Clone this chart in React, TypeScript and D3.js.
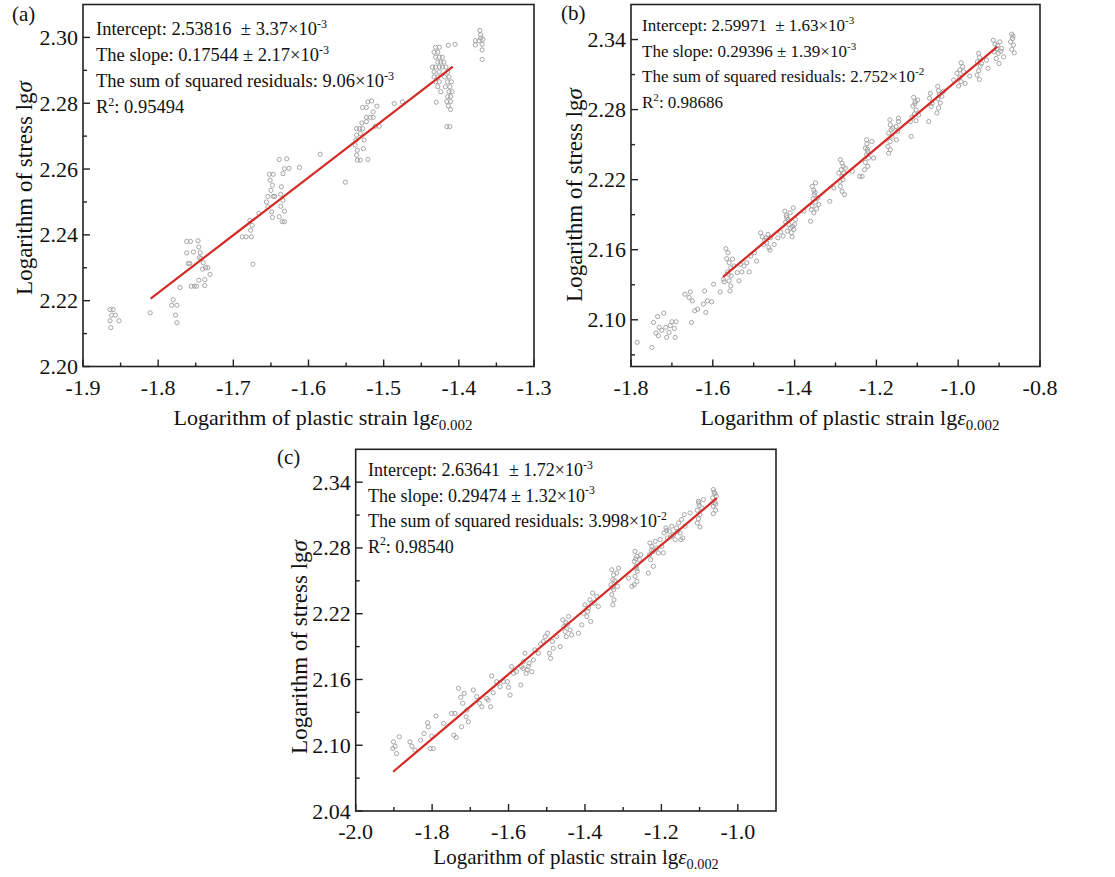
import React from "react";
import * as d3 from "d3";

const FONT = "'Liberation Serif', 'Times New Roman', Times, serif";

// ---------- Panel (a) ----------
const pointsA: [number, number][] = [
  [-1.864, 2.2173], [-1.860, 2.2173], [-1.862, 2.2156], [-1.857, 2.2156], [-1.864, 2.2139], [-1.852, 2.2139], [-1.863, 2.2118],
  [-1.8106, 2.2163],
  [-1.780, 2.2203], [-1.782, 2.2186], [-1.775, 2.2186], [-1.777, 2.2156], [-1.775, 2.2133], [-1.771, 2.2240],
  [-1.762, 2.2380], [-1.757, 2.2380], [-1.747, 2.2382], [-1.762, 2.2345], [-1.753, 2.2348], [-1.746, 2.2363], [-1.744, 2.2346],
  [-1.758, 2.2313], [-1.745, 2.2331], [-1.740, 2.2315], [-1.737, 2.2300], [-1.734, 2.2300], [-1.731, 2.2280], [-1.756, 2.2244],
  [-1.752, 2.2244], [-1.749, 2.2244], [-1.746, 2.2262], [-1.738, 2.2264], [-1.738, 2.2246], [-1.743, 2.2328], [-1.760, 2.2313], [-1.741, 2.2296],
  [-1.688, 2.2394], [-1.683, 2.2394], [-1.676, 2.2394], [-1.677, 2.2414], [-1.678, 2.2444], [-1.675, 2.2429], [-1.674, 2.2311], [-1.666, 2.2465],
  [-1.652, 2.2584], [-1.647, 2.2584], [-1.651, 2.2566], [-1.648, 2.2551], [-1.654, 2.2517], [-1.647, 2.2517], [-1.645, 2.2517],
  [-1.656, 2.2500], [-1.654, 2.2485], [-1.649, 2.2470], [-1.648, 2.2453], [-1.639, 2.2629], [-1.629, 2.2631], [-1.632, 2.2601],
  [-1.634, 2.2586], [-1.637, 2.2523], [-1.634, 2.2505], [-1.637, 2.2487], [-1.632, 2.2472], [-1.639, 2.2455], [-1.635, 2.2440],
  [-1.632, 2.2440], [-1.626, 2.2602], [-1.612, 2.2605], [-1.636, 2.2546], [-1.650, 2.2535],
  [-1.5845, 2.2645], [-1.551, 2.2560],
  [-1.536, 2.2723], [-1.532, 2.2723], [-1.528, 2.2723], [-1.536, 2.2703], [-1.531, 2.2708], [-1.537, 2.2688], [-1.538, 2.2673],
  [-1.535, 2.2657], [-1.536, 2.2642], [-1.535, 2.2627], [-1.531, 2.2627], [-1.527, 2.2662], [-1.526, 2.2688], [-1.528, 2.2787],
  [-1.523, 2.2787], [-1.521, 2.2804], [-1.516, 2.2807], [-1.523, 2.2757], [-1.518, 2.2757], [-1.514, 2.2774], [-1.509, 2.2791],
  [-1.514, 2.2757], [-1.511, 2.2730], [-1.506, 2.2730], [-1.521, 2.2629], [-1.523, 2.2744], [-1.529, 2.2740],
  [-1.486, 2.2799], [-1.475, 2.2804],
  [-1.431, 2.2970], [-1.426, 2.2970], [-1.433, 2.2955], [-1.428, 2.2955], [-1.431, 2.2940], [-1.426, 2.2940], [-1.422, 2.2940],
  [-1.428, 2.2925], [-1.424, 2.2925], [-1.420, 2.2925], [-1.435, 2.2910], [-1.431, 2.2910], [-1.426, 2.2910], [-1.422, 2.2910],
  [-1.417, 2.2910], [-1.433, 2.2895], [-1.426, 2.2895], [-1.415, 2.2895], [-1.433, 2.2880], [-1.428, 2.2880], [-1.419, 2.2880],
  [-1.413, 2.2880], [-1.431, 2.2865], [-1.426, 2.2865], [-1.415, 2.2865], [-1.410, 2.2865], [-1.428, 2.2850], [-1.418, 2.2850],
  [-1.412, 2.2850], [-1.424, 2.2835], [-1.413, 2.2835], [-1.409, 2.2835], [-1.430, 2.2803], [-1.415, 2.2820], [-1.411, 2.2820],
  [-1.416, 2.2805], [-1.411, 2.2805], [-1.414, 2.2792], [-1.411, 2.2781], [-1.412, 2.2729], [-1.416, 2.2729],
  [-1.414, 2.2976], [-1.405, 2.2979],
  [-1.372, 2.3021], [-1.371, 2.3008], [-1.368, 2.2994], [-1.378, 2.2990], [-1.373, 2.2990], [-1.369, 2.2979], [-1.378, 2.2977],
  [-1.369, 2.2962], [-1.369, 2.2933], [-1.371, 2.2998],
];
const fitA = { intercept: 2.53816, slope: 0.17544, from: -1.81, to: -1.408 };
const xTicksA = [-1.9, -1.8, -1.7, -1.6, -1.5, -1.4, -1.3];
const xMinorA = [-1.85, -1.75, -1.65, -1.55, -1.45, -1.35];
const yTicksA = [2.2, 2.22, 2.24, 2.26, 2.28, 2.3];
const yMinorA = [2.21, 2.23, 2.25, 2.27, 2.29];
const notesA = [
  ["Intercept: 2.53816  ± 3.37×10", "-3", ""],
  ["The slope: 0.17544 ± 2.17×10", "-3", ""],
  ["The sum of squared residuals: 9.06×10", "-3", ""],
  ["R", "2", ": 0.95494"],
];

// ---------- Panel (b) ----------
const pointsB: [number, number][] = [
  [-1.785, 2.0807], [-1.749, 2.0764], [-1.745, 2.0977], [-1.735, 2.1028], [-1.739, 2.0886], [-1.731, 2.0935], [-1.733, 2.0863],
  [-1.720, 2.1057], [-1.715, 2.0935], [-1.713, 2.0849], [-1.707, 2.0892], [-1.700, 2.0983], [-1.690, 2.0983], [-1.694, 2.0926],
  [-1.692, 2.0849], [-1.668, 2.1219], [-1.655, 2.1239], [-1.652, 2.0977], [-1.658, 2.1191], [-1.650, 2.1162], [-1.644, 2.1077],
  [-1.637, 2.1091], [-1.620, 2.1247], [-1.623, 2.1134], [-1.613, 2.1162], [-1.617, 2.1063], [-1.603, 2.1154], [-1.598, 2.1304],
  [-1.582, 2.1239], [-1.574, 2.1347], [-1.725, 2.0910], [-1.704, 2.0950],
  [-1.568, 2.1609], [-1.563, 2.1574], [-1.566, 2.1523], [-1.560, 2.1489], [-1.556, 2.1446], [-1.564, 2.1410], [-1.555, 2.1375],
  [-1.560, 2.1333], [-1.556, 2.1290], [-1.558, 2.1247], [-1.572, 2.1325], [-1.548, 2.1461], [-1.540, 2.1404], [-1.536, 2.1333],
  [-1.529, 2.1410], [-1.524, 2.1461], [-1.517, 2.1489], [-1.511, 2.1410], [-1.507, 2.1546], [-1.498, 2.1574], [-1.493, 2.1503],
  [-1.532, 2.1475], [-1.562, 2.1390], [-1.552, 2.1520],
  [-1.483, 2.1745], [-1.479, 2.1711], [-1.473, 2.1682], [-1.476, 2.1645], [-1.468, 2.1660], [-1.463, 2.1617], [-1.459, 2.1702],
  [-1.465, 2.1731], [-1.460, 2.1597], [-1.450, 2.1645], [-1.441, 2.1702], [-1.434, 2.1751], [-1.470, 2.1700],
  [-1.424, 2.1930], [-1.420, 2.1893], [-1.416, 2.1859], [-1.422, 2.1836], [-1.414, 2.1816], [-1.410, 2.1788], [-1.418, 2.1759],
  [-1.408, 2.1745], [-1.406, 2.1711], [-1.402, 2.1774], [-1.403, 2.1958], [-1.398, 2.1859], [-1.400, 2.1816], [-1.428, 2.1717],
  [-1.411, 2.1916], [-1.419, 2.1875], [-1.405, 2.1800],
  [-1.377, 2.1930], [-1.361, 2.1844],
  [-1.357, 2.2143], [-1.353, 2.2109], [-1.352, 2.2072], [-1.355, 2.2035], [-1.349, 2.2007], [-1.357, 2.1973], [-1.346, 2.1950],
  [-1.353, 2.1916], [-1.343, 2.2044], [-1.341, 2.1987], [-1.359, 2.1944], [-1.349, 2.2172], [-1.350, 2.2090],
  [-1.314, 2.2015], [-1.304, 2.2129],
  [-1.288, 2.2371], [-1.284, 2.2342], [-1.281, 2.2314], [-1.286, 2.2285], [-1.280, 2.2257], [-1.284, 2.2228], [-1.289, 2.2186],
  [-1.288, 2.2143], [-1.284, 2.2100], [-1.278, 2.2072], [-1.276, 2.2300], [-1.292, 2.2257], [-1.282, 2.2200],
  [-1.259, 2.2271], [-1.241, 2.2228],
  [-1.224, 2.2541], [-1.223, 2.2507], [-1.227, 2.2470], [-1.221, 2.2442], [-1.224, 2.2413], [-1.219, 2.2385], [-1.227, 2.2348],
  [-1.221, 2.2314], [-1.229, 2.2285], [-1.211, 2.2527], [-1.207, 2.2385], [-1.235, 2.2228], [-1.222, 2.2460],
  [-1.167, 2.2712], [-1.166, 2.2669], [-1.164, 2.2627], [-1.170, 2.2598], [-1.162, 2.2570], [-1.167, 2.2527], [-1.172, 2.2484],
  [-1.166, 2.2456], [-1.170, 2.2427], [-1.152, 2.2655], [-1.146, 2.2726], [-1.148, 2.2613], [-1.151, 2.2541], [-1.146, 2.2698],
  [-1.160, 2.2640],
  [-1.115, 2.2570],
  [-1.109, 2.2905], [-1.105, 2.2868], [-1.111, 2.2831], [-1.103, 2.2797], [-1.107, 2.2763], [-1.113, 2.2735], [-1.103, 2.2706],
  [-1.099, 2.2882], [-1.097, 2.2754], [-1.117, 2.2698], [-1.072, 2.2698], [-1.106, 2.2850],
  [-1.068, 2.2939], [-1.070, 2.2897], [-1.064, 2.2854], [-1.066, 2.2826], [-1.050, 2.2999], [-1.048, 2.2962], [-1.046, 2.2928],
  [-1.050, 2.2894], [-1.044, 2.2857], [-1.048, 2.2814], [-1.052, 2.2771], [-1.040, 2.2914], [-1.036, 2.2956],
  [-1.003, 2.3110], [-0.996, 2.3076], [-0.993, 2.3039], [-0.999, 2.3002], [-0.989, 2.3167], [-0.993, 2.3201], [-0.987, 2.3124],
  [-0.983, 2.3025], [-1.011, 2.3053], [-0.972, 2.3087], [-0.996, 2.3140],
  [-0.950, 2.3281], [-0.948, 2.3246], [-0.953, 2.3209], [-0.946, 2.3173], [-0.950, 2.3133], [-0.954, 2.3096], [-0.948, 2.3059],
  [-0.943, 2.3195], [-0.931, 2.3224], [-0.927, 2.3153],
  [-0.914, 2.3394], [-0.910, 2.3360], [-0.906, 2.3323], [-0.912, 2.3295], [-0.902, 2.3281], [-0.907, 2.3238], [-0.898, 2.3380],
  [-0.894, 2.3323], [-0.900, 2.3195], [-0.889, 2.3252], [-0.904, 2.3350], [-0.896, 2.3300],
  [-0.869, 2.3446], [-0.867, 2.3409], [-0.872, 2.3380], [-0.865, 2.3352], [-0.869, 2.3315], [-0.863, 2.3286], [-0.866, 2.3430],
];
const fitB = { intercept: 2.59971, slope: 0.29396, from: -1.575, to: -0.905 };
const xTicksB = [-1.8, -1.6, -1.4, -1.2, -1.0, -0.8];
const xMinorB = [-1.7, -1.5, -1.3, -1.1, -0.9];
const yTicksB = [2.1, 2.16, 2.22, 2.28, 2.34];
const yMinorB = [2.07, 2.13, 2.19, 2.25, 2.31];
const notesB = [
  ["Intercept: 2.59971  ± 1.63×10", "-3", ""],
  ["The slope: 0.29396 ± 1.39×10", "-3", ""],
  ["The sum of squared residuals: 2.752×10", "-2", ""],
  ["R", "2", ": 0.98686"],
];

// ---------- Panel (c) ----------
const pointsC: [number, number][] = [
  [-1.901, 2.1031], [-1.897, 2.0991], [-1.893, 2.0924], [-1.886, 2.1077], [-1.903, 2.0970], [-1.858, 2.1031], [-1.853, 2.0991],
  [-1.845, 2.0955], [-1.830, 2.1046], [-1.821, 2.1107], [-1.812, 2.1205], [-1.810, 2.1168], [-1.801, 2.1083], [-1.797, 2.0970],
  [-1.805, 2.0970], [-1.790, 2.1266], [-1.770, 2.1199], [-1.749, 2.1290], [-1.740, 2.1290], [-1.743, 2.1092], [-1.737, 2.1071],
  [-1.731, 2.1519], [-1.725, 2.1437], [-1.720, 2.1382], [-1.716, 2.1473], [-1.723, 2.1168], [-1.709, 2.1321], [-1.705, 2.1214],
  [-1.711, 2.1260], [-1.692, 2.1504], [-1.683, 2.1443], [-1.676, 2.1382], [-1.670, 2.1351], [-1.657, 2.1427], [-1.653, 2.1412],
  [-1.647, 2.1351], [-1.644, 2.1632], [-1.640, 2.1479], [-1.631, 2.1580], [-1.622, 2.1534], [-1.613, 2.1580], [-1.603, 2.1580],
  [-1.600, 2.1528], [-1.596, 2.1458], [-1.592, 2.1717], [-1.587, 2.1656], [-1.579, 2.1671], [-1.568, 2.1549], [-1.566, 2.1717],
  [-1.561, 2.1763], [-1.557, 2.1839], [-1.554, 2.1656], [-1.551, 2.1687], [-1.546, 2.1748], [-1.539, 2.1671], [-1.535, 2.1778],
  [-1.531, 2.1870], [-1.522, 2.1839], [-1.516, 2.1924], [-1.509, 2.1946], [-1.504, 2.1991], [-1.498, 2.2022], [-1.493, 2.1839],
  [-1.490, 2.1793], [-1.483, 2.1885], [-1.485, 2.1946], [-1.474, 2.1991], [-1.465, 2.1900], [-1.458, 2.2144], [-1.455, 2.2083],
  [-1.452, 2.2037], [-1.449, 2.1991], [-1.446, 2.2098], [-1.443, 2.2174], [-1.439, 2.2052], [-1.435, 2.2007], [-1.417, 2.2022],
  [-1.408, 2.2098], [-1.404, 2.2205], [-1.400, 2.2281], [-1.395, 2.2174], [-1.391, 2.2251], [-1.387, 2.2327], [-1.385, 2.2129],
  [-1.380, 2.2388], [-1.376, 2.2296], [-1.369, 2.2357], [-1.365, 2.2266], [-1.562, 2.1700], [-1.548, 2.1720], [-1.450, 2.2120],
  [-1.393, 2.2220], [-1.382, 2.2300],
  [-1.330, 2.2601], [-1.325, 2.2555], [-1.327, 2.2510], [-1.332, 2.2464], [-1.325, 2.2418], [-1.330, 2.2373], [-1.324, 2.2327],
  [-1.327, 2.2281], [-1.317, 2.2571], [-1.315, 2.2449], [-1.312, 2.2616], [-1.328, 2.2440], [-1.322, 2.2500],
  [-1.286, 2.2525], [-1.277, 2.2449],
  [-1.269, 2.2769], [-1.264, 2.2723], [-1.271, 2.2677], [-1.266, 2.2632], [-1.263, 2.2586], [-1.269, 2.2540], [-1.264, 2.2495],
  [-1.271, 2.2464], [-1.257, 2.2693], [-1.254, 2.2738], [-1.267, 2.2700], [-1.265, 2.2610],
  [-1.230, 2.2845], [-1.225, 2.2815], [-1.221, 2.2769], [-1.231, 2.2738], [-1.228, 2.2693], [-1.234, 2.2571], [-1.216, 2.2860],
  [-1.212, 2.2799], [-1.208, 2.2754], [-1.203, 2.2876], [-1.199, 2.2815], [-1.221, 2.2632], [-1.195, 2.2754], [-1.226, 2.2780],
  [-1.193, 2.2937], [-1.188, 2.2982], [-1.184, 2.2891], [-1.179, 2.2952], [-1.173, 2.2998], [-1.168, 2.2921], [-1.164, 2.2876],
  [-1.160, 2.2982], [-1.155, 2.3028], [-1.151, 2.2937], [-1.147, 2.3059], [-1.144, 2.2891], [-1.140, 2.3104], [-1.138, 2.2998],
  [-1.149, 2.2876], [-1.125, 2.3120], [-1.186, 2.2960], [-1.176, 2.2900], [-1.158, 2.2950],
  [-1.103, 2.3226], [-1.101, 2.3187], [-1.106, 2.3144], [-1.099, 2.3104], [-1.103, 2.3065], [-1.106, 2.3028], [-1.099, 2.2991],
  [-1.094, 2.3165], [-1.090, 2.3241], [-1.102, 2.3210],
  [-1.064, 2.3333], [-1.060, 2.3296], [-1.066, 2.3257], [-1.060, 2.3217], [-1.064, 2.3180], [-1.058, 2.3144], [-1.064, 2.3113],
  [-1.056, 2.3272], [-1.062, 2.3310], [-1.058, 2.3200],
];
const fitC = { intercept: 2.63641, slope: 0.29474, from: -1.902, to: -1.055 };
const xTicksC = [-2.0, -1.8, -1.6, -1.4, -1.2, -1.0];
const xMinorC = [-1.9, -1.7, -1.5, -1.3, -1.1];
const yTicksC = [2.04, 2.1, 2.16, 2.22, 2.28, 2.34];
const yMinorC = [2.07, 2.13, 2.19, 2.25, 2.31];
const notesC = [
  ["Intercept: 2.63641  ± 1.72×10", "-3", ""],
  ["The slope: 0.29474 ± 1.32×10", "-3", ""],
  ["The sum of squared residuals: 3.998×10", "-2", ""],
  ["R", "2", ": 0.98540"],
];

type PanelProps = {
  label: string;
  box: { left: number; right: number; top: number; bottom: number };
  xDomain: [number, number];
  yDomain: [number, number];
  xTicks: number[];
  xMinor: number[];
  yTicks: number[];
  yMinor: number[];
  xFmt: (v: number) => string;
  yFmt: (v: number) => string;
  points: [number, number][];
  fit: { intercept: number; slope: number; from: number; to: number };
  notes: string[][];
  noteX: number;
  noteY: number;
  noteGap: number;
  noteFs: number;
  yTitlePos: [number, number];
  xTitlePos: [number, number];
  xTitleFs: number;
  labelPos: [number, number];
};

function Panel(p: PanelProps) {
  const { box } = p;
  const x = d3.scaleLinear().domain(p.xDomain).range([box.left, box.right]);
  const y = d3.scaleLinear().domain(p.yDomain).range([box.bottom, box.top]);
  const line = d3
    .line<number>()
    .x((v) => x(v))
    .y((v) => y(p.fit.intercept + p.fit.slope * v));
  const major = 7;
  const minor = 4;
  const tickFs = 22;
  const sup = p.noteFs * 0.4;
  return (
    <g fontFamily={FONT} fill="#111">
      {p.points.map((d, i) => (
        <circle key={i} cx={x(d[0])} cy={y(d[1])} r={2.1} fill="none" stroke="#9c9c9c" strokeWidth={0.9} />
      ))}
      <path d={line([p.fit.from, p.fit.to]) || ""} stroke="#d42a26" strokeWidth={2.2} fill="none" />
      <rect x={box.left} y={box.top} width={box.right - box.left} height={box.bottom - box.top} fill="none" stroke="#222" strokeWidth={1.6} />
      {p.xTicks.map((t) => (
        <g key={"xt" + t}>
          <line x1={x(t)} x2={x(t)} y1={box.bottom} y2={box.bottom - major} stroke="#222" strokeWidth={1.4} />
          <text x={x(t)} y={box.bottom + 28} fontSize={tickFs} textAnchor="middle">{p.xFmt(t)}</text>
        </g>
      ))}
      {p.xMinor.map((t) => (
        <line key={"xm" + t} x1={x(t)} x2={x(t)} y1={box.bottom} y2={box.bottom - minor} stroke="#222" strokeWidth={1.4} />
      ))}
      {p.yTicks.map((t) => (
        <g key={"yt" + t}>
          <line x1={box.left} x2={box.left + major} y1={y(t)} y2={y(t)} stroke="#222" strokeWidth={1.4} />
          <text x={box.left - 5} y={y(t) + 7.5} fontSize={tickFs} textAnchor="end">{p.yFmt(t)}</text>
        </g>
      ))}
      {p.yMinor.map((t) => (
        <line key={"ym" + t} x1={box.left} x2={box.left + minor} y1={y(t)} y2={y(t)} stroke="#222" strokeWidth={1.4} />
      ))}
      {p.notes.map((n, i) => (
        <text key={"n" + i} x={p.noteX} y={p.noteY + i * p.noteGap} fontSize={p.noteFs} style={{ whiteSpace: "pre" }}>
          {n[0]}
          <tspan dy={-sup} fontSize={p.noteFs * 0.65}>{n[1]}</tspan>
          {n[2] ? <tspan dy={sup}>{n[2]}</tspan> : null}
        </text>
      ))}
      <text
        transform={`translate(${p.yTitlePos[0]},${p.yTitlePos[1]}) rotate(-90)`}
        fontSize={23}
        textAnchor="middle"
      >
        Logarithm of stress lg<tspan fontStyle="italic">σ</tspan>
      </text>
      <text x={p.xTitlePos[0]} y={p.xTitlePos[1]} fontSize={p.xTitleFs} textAnchor="middle">
        Logarithm of plastic strain lg<tspan fontStyle="italic">ε</tspan>
        <tspan dy={5} fontSize={p.xTitleFs * 0.68}>0.002</tspan>
      </text>
      <text x={p.labelPos[0]} y={p.labelPos[1]} fontSize={21}>{p.label}</text>
    </g>
  );
}

const hy = (s: string) => s.replace("\u2212", "-");
const f1 = (v: number) => hy(d3.format(".1f")(v));
const f2 = (v: number) => hy(d3.format(".2f")(v));

export default function App() {
  return (
    <svg width={1115} height={877} style={{ position: "absolute", left: 0, top: 0, background: "#fff" }}>
      <rect width={1115} height={877} fill="#fff" />
      <Panel
        label="(a)"
        box={{ left: 83, right: 534, top: 4.5, bottom: 366.5 }}
        xDomain={[-1.9, -1.3]}
        yDomain={[2.2, 2.31]}
        xTicks={xTicksA}
        xMinor={xMinorA}
        yTicks={yTicksA}
        yMinor={yMinorA}
        xFmt={f1}
        yFmt={f2}
        points={pointsA}
        fit={fitA}
        notes={notesA}
        noteX={96}
        noteY={35}
        noteGap={26}
        noteFs={18.5}
        yTitlePos={[32, 188]}
        xTitlePos={[323, 425]}
        xTitleFs={22}
        labelPos={[12, 21]}
      />
      <Panel
        label="(b)"
        box={{ left: 631, right: 1040, top: 4.5, bottom: 366.5 }}
        xDomain={[-1.8, -0.8]}
        yDomain={[2.06, 2.37]}
        xTicks={xTicksB}
        xMinor={xMinorB}
        yTicks={yTicksB}
        yMinor={yMinorB}
        xFmt={f1}
        yFmt={f2}
        points={pointsB}
        fit={fitB}
        notes={notesB}
        noteX={642}
        noteY={31}
        noteGap={25.5}
        noteFs={17}
        yTitlePos={[582, 195]}
        xTitlePos={[850, 425]}
        xTitleFs={22}
        labelPos={[561, 20]}
      />
      <Panel
        label="(c)"
        box={{ left: 355.7, right: 776, top: 449.3, bottom: 811 }}
        xDomain={[-2.0, -0.9]}
        yDomain={[2.04, 2.37]}
        xTicks={xTicksC}
        xMinor={xMinorC}
        yTicks={yTicksC}
        yMinor={yMinorC}
        xFmt={f1}
        yFmt={f2}
        points={pointsC}
        fit={fitC}
        notes={notesC}
        noteX={368}
        noteY={476}
        noteGap={25.5}
        noteFs={18}
        yTitlePos={[307, 647]}
        xTitlePos={[576, 864]}
        xTitleFs={21}
        labelPos={[277, 464]}
      />
    </svg>
  );
}
